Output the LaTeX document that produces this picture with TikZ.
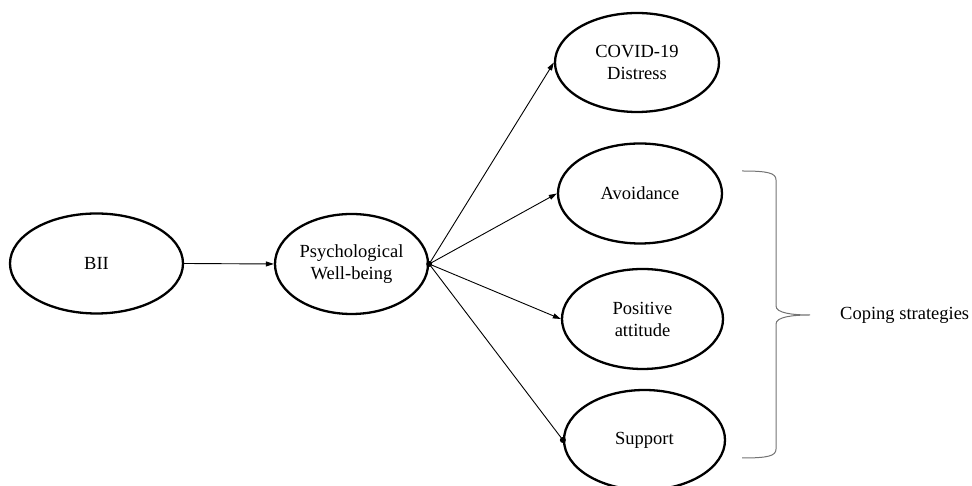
\documentclass[tikz,border=0pt]{standalone}
\usepackage{fontspec}
\setmainfont{Liberation Serif}
\usetikzlibrary{shapes.geometric,arrows.meta}
\tikzset{
  ell/.style={ellipse, draw, line width=2.3pt, inner sep=0pt, align=center,
    font=\fontsize{18.5}{22}\selectfont, minimum height=100pt},
  conn/.style={line width=0.9pt, -{Triangle[length=8pt,width=5pt]}},
  dotstart/.style={line width=0.9pt},
  brace/.style={draw=black!55, line width=1pt}
}
\begin{document}
\begin{tikzpicture}[x=1pt,y=1pt]
\useasboundingbox (0,0) rectangle (972,486);
\node[ell, minimum width=173pt] (bii) at (96.5,222.5) {BII};
\node[ell, minimum width=153pt] (psy) at (351.5,222) {Psychological\\Well-being};
\node[ell, minimum width=164pt, minimum height=99pt] (cov) at (637,423.5) {COVID-19\\Distress};
\node[ell, minimum width=164pt] (avo) at (640,292.5) {Avoidance};
\node[ell, minimum width=161pt] (pos) at (642.5,167) {Positive\\attitude};
\node[ell, minimum width=161pt] (sup) at (644.5,46) {Support};
\draw[conn] (bii.east) -- (psy.west);
\draw[conn] (psy.east) -- (cov.west);
\draw[conn] (psy.east) -- (avo.west);
\draw[conn] (psy.east) -- (pos.west);
\draw[dotstart] (psy.east) -- (sup.west);
\fill (psy.east) circle (3pt);
\fill (sup.west) circle (3pt);
\coordinate (btop) at (742,315);
\coordinate (btip) at (810,171);
\coordinate (bbot) at (742,28);
\draw[brace] (btop) .. controls (768,315) and (776,313) .. (776,306) -- (776,180)
  .. controls (776,173) and (792,171) .. (btip)
  .. controls (792,171) and (776,169) .. (776,162) -- (776,37)
  .. controls (776,30) and (768,28) .. (bbot);
\node[anchor=west, font=\fontsize{18.5}{22}\selectfont, inner sep=0pt] (cop) at (840,171) {Coping strategies};
\end{tikzpicture}
\end{document}
